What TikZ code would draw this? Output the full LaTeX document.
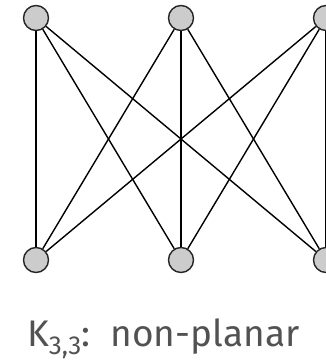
\documentclass[tikz,border=0pt]{standalone}
\usepackage{fontspec}
\setmainfont{Fira Sans}
\begin{document}
\begin{tikzpicture}[x=1pt,y=-1pt,
  vtx/.style={circle,draw=black!85,fill=black!20,line width=1.4pt,minimum size=25pt,inner sep=0pt},
  edge/.style={line width=1.4pt,black}]
\useasboundingbox (0,0) rectangle (325,361);
\node[vtx] (a1) at (36,18) {};
\node[vtx] (a2) at (181,18) {};
\node[vtx] (a3) at (326,18) {};
\node[vtx] (b1) at (36,260) {};
\node[vtx] (b2) at (181,260) {};
\node[vtx] (b3) at (326,260) {};
\foreach \u in {a1,a2,a3}{\foreach \v in {b1,b2,b3}{\draw[edge] (\u) -- (\v);}}
\node[text=black!68,font=\fontsize{37}{42}\selectfont,anchor=base west,inner sep=0pt] (t) at (27,346) {K\raisebox{-0.22em}{\fontsize{26}{30}\selectfont 3,3}:\hspace{0.55em}non-planar};
\end{tikzpicture}
\end{document}
